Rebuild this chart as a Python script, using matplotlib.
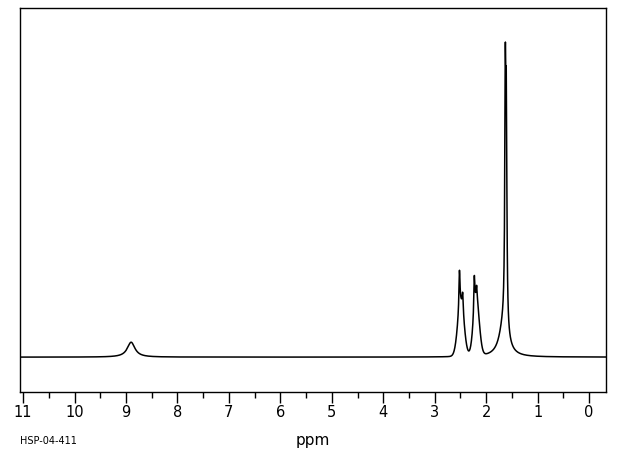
import numpy as np
import matplotlib
matplotlib.use("Agg")
import matplotlib.pyplot as plt

# Peak list (ppm, relative height, width, line shape)
peak_ppm    = [8.90, 2.490, 2.518, 2.455, 2.190, 2.229, 2.183, 1.660, 1.627, 1.607]
peak_height = [4.7,  16.0,  12.5,  6.0,   17.0,  11.5,  4.5,   10.0,  72.0,  62.0]
peak_width  = [0.18, 0.062, 0.025, 0.025, 0.057, 0.025, 0.025, 0.20,  0.025, 0.025]
peak_shape  = ["L",  "G",   "L",   "L",   "G",   "L",   "L",   "L",   "L",   "L"]

tick_values = list(range(0, 12))
tick_labels = [str(v) for v in tick_values]
x_label = "ppm"
sample_id = "HSP-04-411"

x = np.linspace(-0.33, 11.06, 12000)
y = np.zeros_like(x)
for c, h, w, s in zip(peak_ppm, peak_height, peak_width, peak_shape):
    if s == "L":
        y += h / (1.0 + ((x - c) / (w / 2.0)) ** 2)
    else:
        y += h * np.exp(-((x - c) ** 2) / (2.0 * w ** 2))

fig = plt.figure(figsize=(6.2, 4.55), dpi=100)
ax = fig.add_axes([20 / 620, 1 - 392 / 455, 586 / 620, 384 / 455])
ax.plot(x, y, color="black", lw=1.1)
ax.set_xlim(11.06, -0.33)
ax.set_ylim(-11.0, 110.1)
ax.set_yticks([])
ax.set_xticks(tick_values)
ax.set_xticklabels(tick_labels, fontsize=10.5)
ax.set_xticks(np.arange(0.5, 11.0, 1.0), minor=True)
ax.tick_params(axis="x", which="major", direction="out", length=8, width=1, pad=1.5, colors="black")
ax.tick_params(axis="x", which="minor", direction="out", length=4.5, width=1)
for sp in ax.spines.values():
    sp.set_linewidth(1.0)
    sp.set_color("black")

fig.text(313 / 620, 1 - 440 / 455, x_label, ha="center", va="center", fontsize=11)
fig.text(20 / 620, 1 - 441 / 455, sample_id, ha="left", va="center", fontsize=7)

fig.savefig("out.png", dpi=100)
